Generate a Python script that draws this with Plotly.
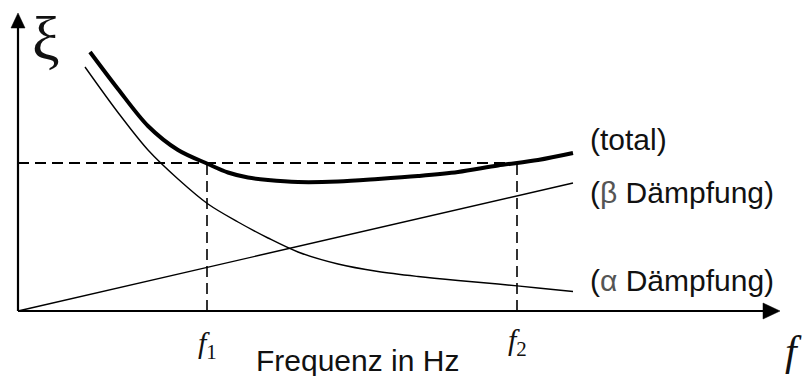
import plotly.graph_objects as go

# Rayleigh damping sketch: damping ratio xi over frequency (arbitrary units)
f_total = [7.2, 10.0, 13.0, 16.0, 19.0, 21.0, 23.0, 25.0, 28.0, 32.0, 36.0, 40.0, 44.0, 48.0, 52.0, 55.5]
xi_total = [25.9, 22.2, 18.5, 16.1, 14.7, 13.85, 13.35, 13.1, 12.9, 12.95, 13.2, 13.5, 13.9, 14.55, 15.1, 15.8]

f_alpha = [6.7, 10.0, 13.0, 16.0, 19.0, 22.0, 25.0, 28.0, 32.0, 36.0, 40.0, 44.0, 48.0, 52.0, 55.5]
xi_alpha = [24.4, 19.85, 16.1, 13.2, 10.7, 8.9, 7.3, 5.9, 4.7, 3.95, 3.45, 3.05, 2.7, 2.3, 1.95]

f_beta = [0.0, 55.5]
xi_beta = [0.0, 12.8]

f1, f2 = 18.9, 49.9
xi_target = 14.8

curve_labels = ["(total)", "(<span style='color:#555'>β</span> Dämpfung)",
                "(<span style='color:#555'>α</span> Dämpfung)"]
label_y = [17.2, 11.9, 3.1]

X_RANGE = [-1.8, 79.3]
Y_RANGE = [-6.5, 31.1]
X_AXIS_END, Y_AXIS_END = 76.2, 29.8

fig = go.Figure()

fig.add_trace(go.Scatter(x=f_beta, y=xi_beta, mode="lines",
                         line=dict(color="black", width=1.4)))
fig.add_trace(go.Scatter(x=f_alpha, y=xi_alpha, mode="lines",
                         line=dict(color="black", width=1.4, shape="spline", smoothing=0.9)))
fig.add_trace(go.Scatter(x=f_total, y=xi_total, mode="lines",
                         line=dict(color="black", width=4, shape="spline", smoothing=0.9)))

shapes = []
dash = "11px,6px"
# target level and the two anchor frequencies
shapes.append(dict(type="line", x0=0, x1=f2, y0=xi_target, y1=xi_target,
                   line=dict(color="black", width=2.2, dash=dash)))
for fx in (f1, f2):
    shapes.append(dict(type="line", x0=fx, x1=fx, y0=0, y1=xi_target,
                       line=dict(color="black", width=1.6, dash=dash)))

# axes with arrowheads
shapes.append(dict(type="line", x0=0, x1=X_AXIS_END - 1.5, y0=0, y1=0,
                   line=dict(color="black", width=2.2)))
shapes.append(dict(type="line", x0=0, x1=0, y0=0, y1=Y_AXIS_END - 1.3,
                   line=dict(color="black", width=2.2)))
shapes.append(dict(type="path",
                   path=f"M {X_AXIS_END},0 L {X_AXIS_END-1.7},0.8 L {X_AXIS_END-1.7},-0.8 Z",
                   fillcolor="black", line=dict(color="black", width=0.5)))
shapes.append(dict(type="path",
                   path=f"M 0,{Y_AXIS_END} L -0.7,{Y_AXIS_END-1.5} L 0.7,{Y_AXIS_END-1.5} Z",
                   fillcolor="black", line=dict(color="black", width=0.5)))

annotations = []
for txt, yy in zip(curve_labels, label_y):
    annotations.append(dict(x=57.0, y=yy, text=txt, showarrow=False, xanchor="left",
                            yanchor="middle",
                            font=dict(family="Liberation Sans", size=30, color="#111")))

annotations.append(dict(x=33.9, y=-4.9, text="Frequenz in Hz", showarrow=False,
                        xanchor="center", yanchor="middle",
                        font=dict(family="Liberation Sans", size=30, color="#111")))
annotations.append(dict(x=f1, y=-3.4, text="<i>f</i><sub>1</sub>", showarrow=False,
                        xanchor="center", yanchor="middle",
                        font=dict(family="Liberation Serif", size=30, color="#111")))
annotations.append(dict(x=f2, y=-3.1, text="<i>f</i><sub>2</sub>", showarrow=False,
                        xanchor="center", yanchor="middle",
                        font=dict(family="Liberation Serif", size=30, color="#111")))
annotations.append(dict(x=77.5, y=-4.0, text="<i>f</i>", showarrow=False,
                        xanchor="center", yanchor="middle",
                        font=dict(family="Liberation Serif", size=42, color="#111")))
annotations.append(dict(x=2.8, y=27.3, text="ξ", showarrow=False,
                        xanchor="center", yanchor="middle",
                        font=dict(family="Liberation Serif", size=62, color="#111")))

fig.update_layout(
    width=811, height=376,
    margin=dict(l=0, r=0, t=0, b=0),
    paper_bgcolor="white", plot_bgcolor="white",
    showlegend=False,
    shapes=shapes, annotations=annotations,
    xaxis=dict(range=X_RANGE, visible=False, fixedrange=True),
    yaxis=dict(range=Y_RANGE, visible=False, fixedrange=True),
)

fig.write_html("out.html")
